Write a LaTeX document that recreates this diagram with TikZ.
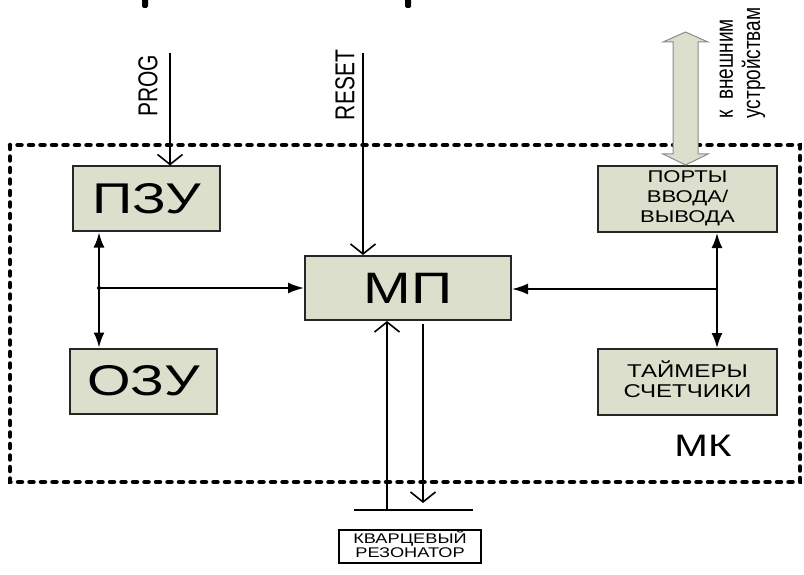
\documentclass[tikz,border=0pt]{standalone}
\usepackage{fontspec}
\setmainfont{Liberation Sans}
\usepackage{graphicx}
\usetikzlibrary{arrows.meta,positioning,calc}
\definecolor{BoxFill}{RGB}{220,223,203}
\definecolor{ArrowEdge}{RGB}{140,140,140}
\newcommand{\widetxt}[1]{\scalebox{1.3}[1]{#1}}
\newcommand{\tallrot}[1]{\scalebox{1}[1.3]{#1}}
\tikzset{
  unitbox/.style={draw=black!85,line width=2pt,fill=BoxFill,inner sep=0pt,
    align=center},
  bigunit/.style={unitbox,minimum width=147pt,minimum height=65pt,
    font=\fontsize{43}{50}\selectfont},
  portbox/.style={unitbox,minimum width=179pt,minimum height=66pt},
  busarrow/.style={{Latex[length=15pt,width=11pt]}-{Latex[length=15pt,width=11pt]},
    line width=2pt},
  feedarrow/.style={-{Latex[length=16pt,width=11pt]},line width=2pt},
  signalarrow/.style={-{Straight Barb[length=10pt,width=25pt]},line width=1.6pt},
  mkframe/.style={line width=4.5pt,dash pattern=on 4pt off 7.5pt,line cap=round},
}
\begin{document}
\begin{tikzpicture}[x=1pt,y=-1pt]
  \useasboundingbox (0,0) rectangle (804,575);
  % cut-off marks at the top edge
  \fill[rounded corners=1.5pt] (142,-4) rectangle (148,8);
  \fill[rounded corners=1.5pt] (405,-4) rectangle (411,8);
  % MK frame
  \draw[mkframe] (10,145) rectangle (800,482);
  \node[font=\fontsize{31}{36}\selectfont] (mk) at (703,446) {\widetxt{МК}};

  \node[bigunit] (pzu) at (146.5,199) {\widetxt{ПЗУ}};
  \node[bigunit,below=115pt of pzu,xshift=-3pt] (ozu) {\widetxt{ОЗУ}};
  \node[unitbox,minimum width=206pt,minimum height=64pt,
    font=\fontsize{44}{50}\selectfont] (mp) at (408,288) {\widetxt{МП}};
  \node[portbox,font=\fontsize{17}{20}\selectfont] (ports) at (687.5,199)
    {\widetxt{\begin{tabular}{@{}c@{}}ПОРТЫ\\ВВОДА/\\ВЫВОДА\end{tabular}}};
  \node[portbox,below=115pt of ports,font=\fontsize{18.5}{20}\selectfont] (timers)
    {\widetxt{\begin{tabular}{@{}c@{}}ТАЙМЕРЫ\\СЧЕТЧИКИ\end{tabular}}};
  \node[draw,line width=1.5pt,fill=white,inner sep=0pt,minimum width=142pt,
    minimum height=33pt,below=208pt of mp,xshift=2pt,
    font=\fontsize{14}{14}\selectfont] (quartz)
    {\widetxt{\begin{tabular}{@{}c@{}}КВАРЦЕВЫЙ\\РЕЗОНАТОР\end{tabular}}};

  % inputs from above
  \node[rotate=90,font=\fontsize{21}{25}\selectfont] (prog) at (148,86) {\tallrot{PROG}};
  \coordinate (progin) at (170,53);
  \draw[signalarrow] (progin) -- (progin |- pzu.north);
  \node[rotate=90,font=\fontsize{21}{25}\selectfont] (reset) at (345,85) {\tallrot{RESET}};
  \coordinate (resetin) at (363,53);
  \draw[signalarrow] (resetin) -- (resetin |- mp.north);

  % buses
  \coordinate (lbus) at (99,288);
  \draw[busarrow] (lbus |- pzu.south) -- (lbus |- ozu.north);
  \draw[feedarrow] (lbus) -- (mp.west |- lbus);
  \fill (lbus) circle (2pt);
  \coordinate (rbus) at (717,289);
  \draw[busarrow] (rbus |- ports.south) -- (rbus |- timers.north);
  \draw[feedarrow] (rbus) -- (mp.east |- rbus);

  % quartz resonator
  \coordinate (qleft) at (354,510);
  \coordinate (qright) at (473,510);
  \draw[line width=1.5pt] (qleft) -- (qright);
  \coordinate (clkin) at (387,511);
  \draw[signalarrow] (clkin) -- (clkin |- mp.south);
  \coordinate (clkout) at (423,503);
  \draw[signalarrow] ($(clkout |- mp.south)+(0,3)$) -- (clkout);

  % to external devices
  \coordinate (ext) at (685.5,32);
  \draw[ArrowEdge,fill=BoxFill,line width=1pt,line join=miter]
    (ext) -- ++(22.5,10) -- ++(-10,0) -- ($(ext |- ports.north)+(12.5,-11)$)
    -- ++(10,0) -- (ext |- ports.north) -- ++(-22.5,-11) -- ++(10,0)
    -- ($(ext)+(-12.5,10)$) -- ++(-10,0) -- cycle;
  \node[rotate=90,font=\fontsize{19}{21}\selectfont] (extlabel) at (741,63)
    {\tallrot{\begin{tabular}{@{}l@{}}к\ \ внешним\\устройствам\end{tabular}}};
\end{tikzpicture}
\end{document}
